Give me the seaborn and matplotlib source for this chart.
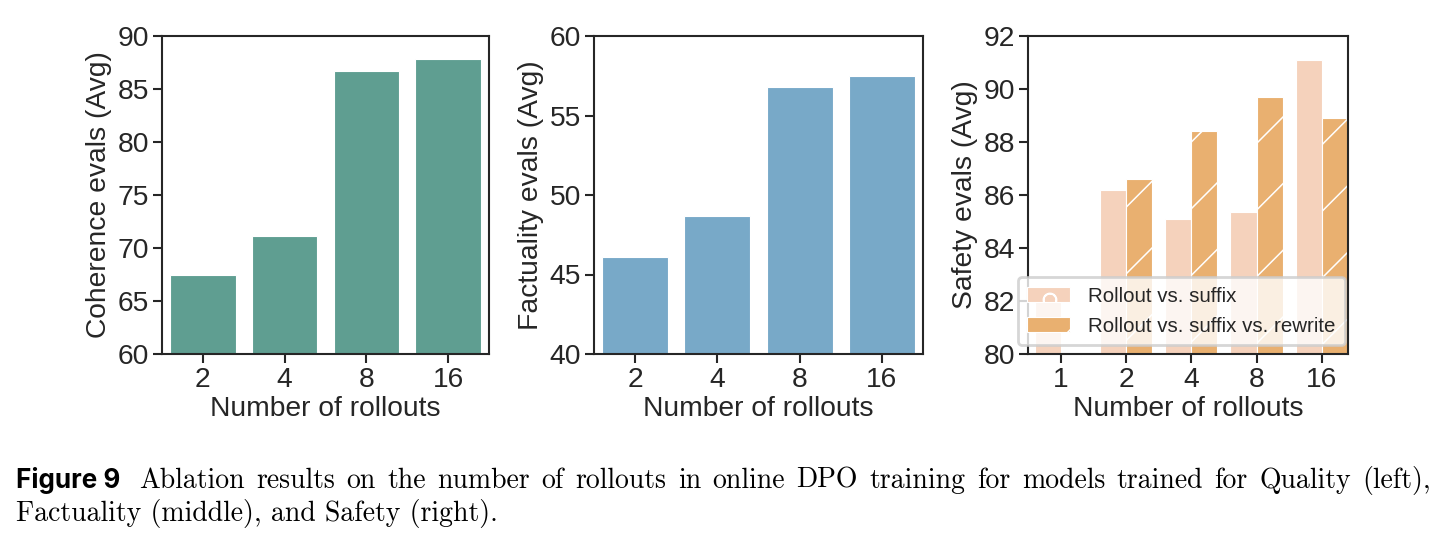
import matplotlib
matplotlib.use("Agg")
import matplotlib.pyplot as plt
from matplotlib.patches import Patch
import pandas as pd
import seaborn as sns

# === data ===
rollouts = ["2", "4", "8", "16"]
coherence = [67.5, 71.1, 86.7, 87.8]
factuality = [46.1, 48.7, 56.8, 57.5]

safety_rollouts = ["1", "2", "4", "8", "16"]
safety_suffix = [82.1, 86.2, 85.1, 85.35, 91.1]
safety_rewrite = [None, 86.6, 88.4, 89.7, 88.9]
methods = ["Rollout vs. suffix", "Rollout vs. suffix vs. rewrite"]

caption_line1 = ("Ablation results on the number of rollouts in online DPO training "
                 "for models trained for Quality (left),")
caption_line2 = "Factuality (middle), and Safety (right)."

TEAL = "#5f9e91"
BLUE = "#78a9c8"
PEACH = "#f5d2bc"
ORANGE = "#e9b070"
INK = "#262626"


def main() -> None:
    sns.set_theme(style="ticks")
    plt.rcParams["font.family"] = ["Liberation Sans", "DejaVu Sans"]
    plt.rcParams["hatch.linewidth"] = 0.55
    plt.rcParams["axes.linewidth"] = 0.75
    plt.rcParams["xtick.major.width"] = 0.75
    plt.rcParams["ytick.major.width"] = 0.75
    plt.rcParams["xtick.major.size"] = 3.2
    plt.rcParams["ytick.major.size"] = 3.2

    fig = plt.figure(figsize=(7.23, 2.705), dpi=200)
    W, H = 1446, 541

    def add_ax(left, right, top=36, bottom=354):
        return fig.add_axes([left / W, 1 - bottom / H, (right - left) / W, (bottom - top) / H])

    fs = 10.2

    # --- Coherence ---
    ax1 = add_ax(162, 489)
    df1 = pd.DataFrame({"rollouts": rollouts, "score": coherence})
    sns.barplot(data=df1, x="rollouts", y="score", order=rollouts, color=TEAL,
                saturation=1, edgecolor="white", linewidth=0.4, ax=ax1)
    ax1.set_ylim(60, 90)
    ax1.set_yticks(range(60, 91, 5))
    ax1.set_ylabel("Coherence evals (Avg)", fontsize=fs, labelpad=2)

    # --- Factuality ---
    ax2 = add_ax(594, 923)
    df2 = pd.DataFrame({"rollouts": rollouts, "score": factuality})
    sns.barplot(data=df2, x="rollouts", y="score", order=rollouts, color=BLUE,
                saturation=1, edgecolor="white", linewidth=0.4, ax=ax2)
    ax2.set_ylim(40, 60)
    ax2.set_yticks(range(40, 61, 5))
    ax2.set_ylabel("Factuality evals (Avg)", fontsize=fs, labelpad=2)

    # --- Safety ---
    ax3 = add_ax(1028, 1348)
    rows = []
    for r, s, w in zip(safety_rollouts, safety_suffix, safety_rewrite):
        rows.append({"rollouts": r, "score": s, "method": methods[0]})
        if w is not None:
            rows.append({"rollouts": r, "score": w, "method": methods[1]})
    df3 = pd.DataFrame(rows)
    sns.barplot(data=df3, x="rollouts", y="score", hue="method", order=safety_rollouts,
                hue_order=methods, palette=[PEACH, ORANGE], saturation=1,
                edgecolor="white", linewidth=0.4, ax=ax3, legend=False)
    for bar in ax3.containers[1]:
        bar.set_hatch("/")
    ax3.set_xlim(-0.5, 4.4)
    ax3.set_ylim(80, 92)
    ax3.set_yticks(range(80, 93, 2))
    ax3.set_ylabel("Safety evals (Avg)", fontsize=fs, labelpad=2)

    handles = [
        Patch(facecolor=PEACH, edgecolor="white", hatch="o", linewidth=0.4),
        Patch(facecolor=ORANGE, edgecolor="white", hatch="/", linewidth=0.4),
    ]
    ax3.legend(handles, methods, loc="lower right", bbox_to_anchor=(0.991, 0.028),
               borderaxespad=0, fontsize=7.4, framealpha=0.8, handlelength=2.1,
               handletextpad=0.9, borderpad=0.45, labelspacing=0.55)

    for ax in (ax1, ax2, ax3):
        ax.set_xlabel("Number of rollouts", fontsize=fs, labelpad=1)
        ax.tick_params(labelsize=fs, pad=1.5, colors=INK)
        for sp in ax.spines.values():
            sp.set_visible(True)
            sp.set_color(INK)

    # --- caption (first line justified like the paper) ---
    fig.text(16 / W, 1 - 488 / H, "Figure 9", fontsize=9.4, weight="bold",
             family=["Inter", "DejaVu Sans"], va="baseline", color="black")
    renderer = fig.canvas.get_renderer()
    words = caption_line1.split()
    texts = [fig.text(0, 1 - 488 / H, w, fontsize=10, family="cmr10",
                      va="baseline", color="black") for w in words]
    widths = [t.get_window_extent(renderer).width for t in texts]
    x0, x1 = 139, 1431
    gap = (x1 - x0 - sum(widths)) / (len(words) - 1)
    x = x0
    for t, w in zip(texts, widths):
        t.set_x(x / W)
        x += w + gap
    fig.text(16 / W, 1 - 521 / H, caption_line2, fontsize=10, family="cmr10",
             va="baseline", color="black")

    fig.savefig("out.png", dpi=200)


if __name__ == "__main__":
    main()
